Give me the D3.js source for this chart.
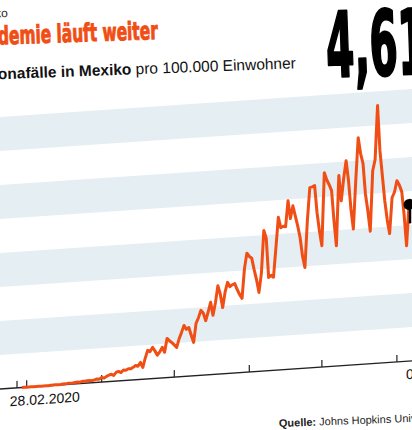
<!DOCTYPE html>
<html>
<head>
<meta charset="utf-8">
<script src="https://cdn.jsdelivr.net/npm/d3@7"></script>
<style>
html, body { margin: 0; padding: 0; background: #fff; overflow: hidden; }
svg { display: block; }
</style>
</head>
<body>
<div id="chart"></div>
<script>
'use strict';
// Daily new cases per 100.000 inhabitants, Mexico, from 28.02.2020
const startDate = '2020-02-28'
const cases = [
    0, 0, 0, 0, 0, 0, 0, 0, 0, 0,
    0, 0, 0.01, 0.01, 0.01, 0.01, 0.01, 0.02, 0.02, 0.03,
    0.03, 0.03, 0.04, 0.05, 0.04, 0.06, 0.06, 0.07, 0.07, 0.06,
    0.08, 0.10, 0.09, 0.14, 0.11, 0.16, 0.19, 0.21, 0.17, 0.26,
    0.28, 0.24, 0.31, 0.30, 0.34, 0.33, 0.37, 0.42, 0.39, 0.50,
    0.35, 0.62, 0.84, 0.80, 0.92, 0.81, 0.68, 0.77, 0.90, 0.75,
    1.15, 1.08, 1.02, 0.95, 0.87, 1.12, 1.30, 1.50, 1.38, 1.43,
    1.20, 0.98, 1.54, 1.70, 1.91, 1.82, 1.60, 1.85, 2.13, 1.74,
    2.10, 2.60, 2.35, 1.95, 2.40, 2.68, 2.55, 2.60, 2.63, 2.45,
    2.30, 2.18, 3.05, 3.50, 3.40, 3.34, 3.00, 2.70, 2.32, 2.88,
    4.13, 3.90, 2.74, 2.80, 2.74, 3.60, 4.49, 4.18, 4.22, 4.20,
    4.96, 4.43, 4.80, 4.50, 4.20, 3.85, 3.30, 2.96, 4.34, 5.30,
    5.32, 5.35, 4.55, 4.00, 3.57, 5.71, 5.50, 5.35, 5.17, 4.28,
    3.54, 5.60, 4.85, 5.50, 6.02, 5.43, 4.60, 4.00, 5.42, 6.67,
    6.20, 5.90, 5.00, 4.50, 3.90, 5.67, 6.00, 7.58, 6.24, 5.50,
    4.76, 4.20, 3.79, 4.84, 5.00, 5.33, 5.20, 5.00, 4.30, 3.40, 4.61
]
const axisStart = '2020-02-26'
const tickDates = ['2020-02-26', '2020-03-01', '2020-04-01', '2020-05-01', '2020-06-01', '2020-07-01', '2020-08-01']
const xLabels = ['28.02.2020', '06.08.2020']
const bandStarts = [1, 3, 5, 7]
const latestValue = '4,61'

const parse = d3.timeParse('%Y-%m-%d')
const data = cases.map((v, i) => ({ date: d3.timeDay.offset(parse(startDate), i), value: v }))
const last = data[data.length - 1]

const W = 412
const H = 430
const base = 389
const orange = '#f04e14'

const x = d3.scaleTime().domain([parse(axisStart), last.date]).range([17, 409])
const y = d3.scaleLinear().domain([0, 8]).range([base, base - 8 * 34])

const svg = d3.select('#chart')
    .append('svg')
    .attr('width', W)
    .attr('height', H)

// Chart body, tilted
const chart = svg.append('g')
    .attr('transform', `translate(0,${base}) skewY(-3.9) translate(0,${-base})`)

// Light stripes
chart.append('g').selectAll('rect')
    .data(bandStarts)
    .join('rect')
    .attr('x', -40)
    .attr('width', 480)
    .attr('y', d => y(d + 1))
    .attr('height', d => y(d) - y(d + 1))
    .attr('fill', '#e5eef2')

// Axis line and ticks
chart.append('line')
    .attr('x1', -40)
    .attr('x2', 460)
    .attr('y1', base)
    .attr('y2', base)
    .attr('stroke', '#222')
    .attr('stroke-width', 1.4)
chart.append('g').selectAll('line')
    .data(tickDates)
    .join('line')
    .attr('x1', d => x(parse(d)))
    .attr('x2', d => x(parse(d)))
    .attr('y1', base)
    .attr('y2', base - 7)
    .attr('stroke', '#222')
    .attr('stroke-width', 1.2)

// Axis labels
chart.append('text')
    .attr('x', x(data[0].date) - 12)
    .attr('y', base + 18)
    .attr('font-family', 'Liberation Sans, Arial, sans-serif')
    .attr('font-size', 14)
    .attr('fill', '#111')
    .text(xLabels[0])
chart.append('text')
    .attr('x', x(last.date) - 3)
    .attr('y', base + 18)
    .attr('font-family', 'Liberation Sans, Arial, sans-serif')
    .attr('font-size', 14)
    .attr('fill', '#111')
    .text(xLabels[1])

// Case line
const caseLine = d3.line()
    .x(d => x(d.date))
    .y(d => y(d.value))
chart.append('path').datum(data)
    .attr('d', caseLine)
    .attr('fill', 'none')
    .attr('stroke', orange)
    .attr('stroke-width', 3)
    .attr('stroke-linejoin', 'round')

// Latest value marker
chart.append('line')
    .attr('x1', x(last.date) + 1)
    .attr('x2', x(last.date) + 1)
    .attr('y1', y(last.value))
    .attr('y2', y(last.value) + 19)
    .attr('stroke', '#000')
    .attr('stroke-width', 2.5)
chart.append('circle')
    .attr('cx', x(last.date))
    .attr('cy', y(last.value))
    .attr('r', 5.5)
    .attr('fill', '#000')

// Header texts
svg.append('text')
    .attr('transform', 'translate(8,17) rotate(-2)')
    .attr('text-anchor', 'end')
    .attr('font-family', 'Liberation Sans, Arial, sans-serif')
    .attr('font-size', 12)
    .attr('fill', '#222')
    .text('Corona in Mexiko')

svg.append('text')
    .attr('transform', 'translate(158,39) rotate(-2)')
    .attr('x', -192)
    .attr('textLength', 192)
    .attr('lengthAdjust', 'spacingAndGlyphs')
    .attr('font-family', 'DejaVu Sans Condensed, sans-serif')
    .attr('font-weight', 'bold')
    .attr('font-size', 25)
    .attr('fill', orange)
    .attr('stroke', orange)
    .attr('stroke-width', 0.9)
    .text('Pandemie läuft weiter')

const sub = svg.append('text')
    .attr('transform', 'translate(296,68.3) rotate(-2.1)')
    .attr('text-anchor', 'end')
    .attr('font-family', 'Liberation Sans, Arial, sans-serif')
    .attr('font-size', 15.5)
    .attr('fill', '#111')
sub.append('tspan').attr('font-weight', 'bold').text('Coronafälle in Mexiko')
sub.append('tspan').text(' pro 100.000 Einwohner')

svg.append('text')
    .attr('transform', 'translate(327,77) rotate(-2)')
    .attr('textLength', 100)
    .attr('lengthAdjust', 'spacingAndGlyphs')
    .attr('font-family', 'DejaVu Sans Condensed, sans-serif')
    .attr('font-weight', 'bold')
    .attr('font-size', 90)
    .attr('fill', '#000')
    .attr('stroke', '#000')
    .attr('stroke-width', 2.5)
    .attr('stroke-linejoin', 'round')
    .text(latestValue)

const src = svg.append('text')
    .attr('transform', 'translate(279,427) rotate(-2.2)')
    .attr('font-family', 'Liberation Sans, Arial, sans-serif')
    .attr('font-size', 11)
    .attr('fill', '#222')
src.append('tspan').attr('font-weight', 'bold').text('Quelle:')
src.append('tspan').text(' Johns Hopkins University')
</script>
</body>
</html>
